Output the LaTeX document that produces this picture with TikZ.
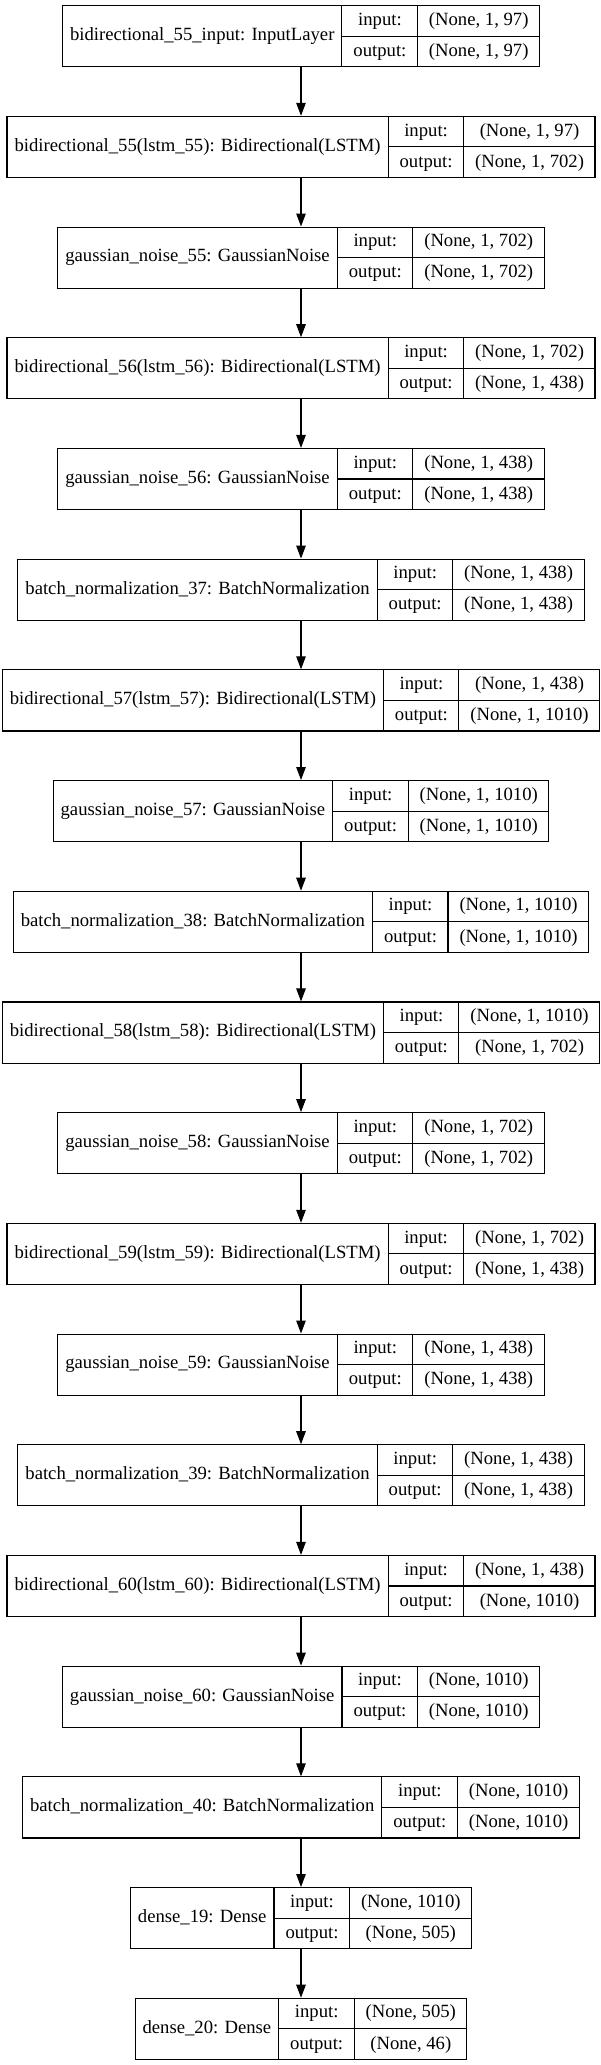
\documentclass[tikz,border=0pt]{standalone}
\usepackage{fontspec}
\setmainfont{Liberation Serif}
\usetikzlibrary{arrows.meta}

\setlength\arrayrulewidth{1.1pt}
\newcommand\lyrstrut{\rule[-10.3pt]{0pt}{30pt}}
\newcommand\lyr[3]{%
  \begin{tabular}{@{\hspace{7.5pt}}c@{\hspace{7.5pt}}|@{}c@{}}
    #1 &
    \begin{tabular}{@{\hspace{11pt}}c@{\hspace{11pt}}|@{\hspace{11pt}}c@{\hspace{11pt}}}
      \lyrstrut input: & #2\\ \hline
      \lyrstrut output: & #3
    \end{tabular}
  \end{tabular}}

\begin{document}
\begin{tikzpicture}[x=1pt,y=1pt,
    lyrbox/.style={draw, line width=1.1pt, inner sep=0pt, font=\fontsize{18.67}{22}\selectfont},
    flow/.style={-{Triangle[length=13pt,width=9.5pt]}, line width=1.1pt}]
        \useasboundingbox (0,0) rectangle (600,-2065);

        \node[lyrbox] (in55) at (301,-36.2) {\lyr{bidirectional\_55\_input: InputLayer}{(None, 1, 97)}{(None, 1, 97)}};
        \node[lyrbox] (bi55) at (301,-146.9) {\lyr{bidirectional\_55(lstm\_55): Bidirectional(LSTM)}{(None, 1, 97)}{(None, 1, 702)}};
        \node[lyrbox] (gn55) at (301,-257.6) {\lyr{gaussian\_noise\_55: GaussianNoise}{(None, 1, 702)}{(None, 1, 702)}};
        \node[lyrbox] (bi56) at (301,-368.3) {\lyr{bidirectional\_56(lstm\_56): Bidirectional(LSTM)}{(None, 1, 702)}{(None, 1, 438)}};
        \node[lyrbox] (gn56) at (301,-479.0) {\lyr{gaussian\_noise\_56: GaussianNoise}{(None, 1, 438)}{(None, 1, 438)}};
        \node[lyrbox] (bn37) at (301,-589.7) {\lyr{batch\_normalization\_37: BatchNormalization}{(None, 1, 438)}{(None, 1, 438)}};
        \node[lyrbox] (bi57) at (301,-700.4) {\lyr{bidirectional\_57(lstm\_57): Bidirectional(LSTM)}{(None, 1, 438)}{(None, 1, 1010)}};
        \node[lyrbox] (gn57) at (301,-811.1) {\lyr{gaussian\_noise\_57: GaussianNoise}{(None, 1, 1010)}{(None, 1, 1010)}};
        \node[lyrbox] (bn38) at (301,-921.8) {\lyr{batch\_normalization\_38: BatchNormalization}{(None, 1, 1010)}{(None, 1, 1010)}};
        \node[lyrbox] (bi58) at (301,-1032.5) {\lyr{bidirectional\_58(lstm\_58): Bidirectional(LSTM)}{(None, 1, 1010)}{(None, 1, 702)}};
        \node[lyrbox] (gn58) at (301,-1143.2) {\lyr{gaussian\_noise\_58: GaussianNoise}{(None, 1, 702)}{(None, 1, 702)}};
        \node[lyrbox] (bi59) at (301,-1253.9) {\lyr{bidirectional\_59(lstm\_59): Bidirectional(LSTM)}{(None, 1, 702)}{(None, 1, 438)}};
        \node[lyrbox] (gn59) at (301,-1364.6) {\lyr{gaussian\_noise\_59: GaussianNoise}{(None, 1, 438)}{(None, 1, 438)}};
        \node[lyrbox] (bn39) at (301,-1475.3) {\lyr{batch\_normalization\_39: BatchNormalization}{(None, 1, 438)}{(None, 1, 438)}};
        \node[lyrbox] (bi60) at (301,-1586.0) {\lyr{bidirectional\_60(lstm\_60): Bidirectional(LSTM)}{(None, 1, 438)}{(None, 1010)}};
        \node[lyrbox] (gn60) at (301,-1696.7) {\lyr{gaussian\_noise\_60: GaussianNoise}{(None, 1010)}{(None, 1010)}};
        \node[lyrbox] (bn40) at (301,-1807.4) {\lyr{batch\_normalization\_40: BatchNormalization}{(None, 1010)}{(None, 1010)}};
        \node[lyrbox] (de19) at (301,-1918.1) {\lyr{dense\_19: Dense}{(None, 1010)}{(None, 505)}};
        \node[lyrbox] (de20) at (301,-2028.8) {\lyr{dense\_20: Dense}{(None, 505)}{(None, 46)}};

        \draw[flow] (in55) -- (bi55);
        \draw[flow] (bi55) -- (gn55);
        \draw[flow] (gn55) -- (bi56);
        \draw[flow] (bi56) -- (gn56);
        \draw[flow] (gn56) -- (bn37);
        \draw[flow] (bn37) -- (bi57);
        \draw[flow] (bi57) -- (gn57);
        \draw[flow] (gn57) -- (bn38);
        \draw[flow] (bn38) -- (bi58);
        \draw[flow] (bi58) -- (gn58);
        \draw[flow] (gn58) -- (bi59);
        \draw[flow] (bi59) -- (gn59);
        \draw[flow] (gn59) -- (bn39);
        \draw[flow] (bn39) -- (bi60);
        \draw[flow] (bi60) -- (gn60);
        \draw[flow] (gn60) -- (bn40);
        \draw[flow] (bn40) -- (de19);
        \draw[flow] (de19) -- (de20);

        \end{tikzpicture}
\end{document}
